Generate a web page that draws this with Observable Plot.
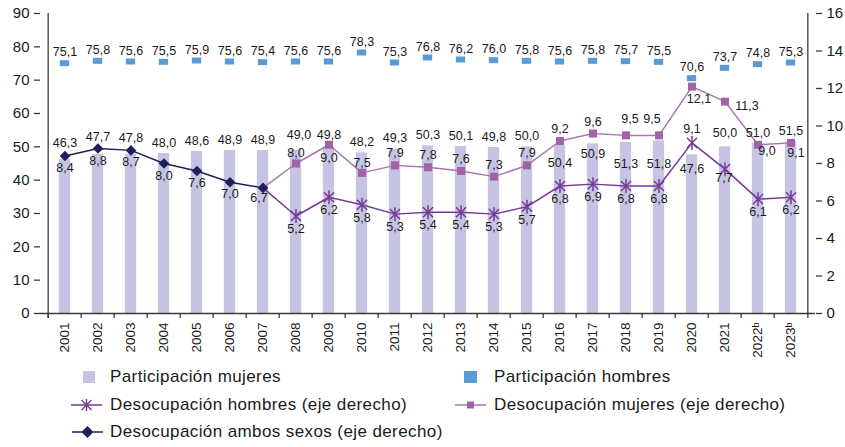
<!DOCTYPE html>
<html><head><meta charset="utf-8">
<script src="https://cdn.jsdelivr.net/npm/d3@7"></script>
<script src="https://cdn.jsdelivr.net/npm/@observablehq/plot@0.6"></script>
<style>
body{margin:0;background:#fff;font-family:"Liberation Sans",Arial,sans-serif;}
#wrap{position:relative;width:845px;height:447px;overflow:hidden}
.item{position:absolute;font-size:17px;color:#1a1a1a;white-space:nowrap;letter-spacing:0.4px;line-height:20px}
.sw{position:absolute}
</style></head><body><div id="wrap"><div id="chart"></div></div>
<script>
const years = [2001,2002,2003,2004,2005,2006,2007,2008,2009,2010,2011,2012,2013,2014,2015,2016,2017,2018,2019,2020,2021,2022,2023];
const yearLabels = ["2001","2002","2003","2004","2005","2006","2007","2008","2009","2010","2011","2012","2013","2014","2015","2016","2017","2018","2019","2020","2021","2022ᵇ","2023ᵇ"];
const partMujeres = [46.3,47.7,47.8,48.0,48.6,48.9,48.9,49.0,49.8,48.2,49.3,50.3,50.1,49.8,50.0,50.4,50.9,51.3,51.8,47.6,50.0,51.0,51.5];
const partHombres = [75.1,75.8,75.6,75.5,75.9,75.6,75.4,75.6,75.6,78.3,75.3,76.8,76.2,76.0,75.8,75.6,75.8,75.7,75.5,70.6,73.7,74.8,75.3];
const desocAmbos = [8.4,8.8,8.7,8.0,7.6,7.0,6.7,null,null,null,null,null,null,null,null,null,null,null,null,null,null,null,null];
const desocHombres = [null,null,null,null,null,null,6.7,5.2,6.2,5.8,5.3,5.4,5.4,5.3,5.7,6.8,6.9,6.8,6.8,9.1,7.7,6.1,6.2];
const desocMujeres = [null,null,null,null,null,null,6.7,8.0,9.0,7.5,7.9,7.8,7.6,7.3,7.9,9.2,9.6,9.5,9.5,12.1,11.3,9.0,9.1];
const leftTicks = [0,10,20,30,40,50,60,70,80,90];
const rightTicks = [0,2,4,6,8,10,12,14,16];

const C = {bar:"#c5c5e3", hom:"#5b9bd5", dh:"#763a97", dm:"#a262a6", dmLine:"#ab74b4", da:"#1f1f5c", axis:"#3a3a3a", text:"#1a1a1a"};
const W = 845, H = 358, mL = 40, mR = 30, mT = 13, mB = 45;
const bw = (W - mL - mR) / years.length;
const k = 90 / 16; // right-axis (0–16) mapped onto left scale (0–90)
const fmt = v => v.toFixed(1).replace(".", ",");

const rows = years.map((y, i) => ({x: yearLabels[i], year: y, pm: partMujeres[i], ph: partHombres[i], da: desocAmbos[i], dh: desocHombres[i], dm: desocMujeres[i]}));

const star = {draw(ctx, size) {
  const r = Math.sqrt(size / Math.PI), d = r * 0.72;
  ctx.moveTo(0, -r); ctx.lineTo(0, r);
  ctx.moveTo(-d, -d); ctx.lineTo(d, d);
  ctx.moveTo(-d, d); ctx.lineTo(d, -d);
}};

// label offsets [dx, dy] (label placement only)
const offPM = {2001:[0,-16],2002:[0,-18],2003:[0,-16],2008:[3,-15],2009:[0,-13],2016:[0,17],2017:[0,10],2018:[0,21],2019:[0,23],2020:[0,14],2021:[0,-14]};
const offDA = {2007:[-4,10]};
const offDH = {2020:[0,-14],2021:[-1,9]};
const offDM = {2008:[0,-11],2009:[0,13],2010:[0,-10],2018:[4,-16],2019:[-7,-16],2020:[7,12],2021:[22,4],2022:[9,6],2023:[5,10]};

function labels(key, scale, defOff, over, filter) {
  return rows.filter(r => r[key] != null && (!filter || filter(r))).map(r => {
    const o = over[r.year] || defOff;
    return Plot.text([r], {x: "x", y: d => d[key] * scale, text: d => fmt(d[key]), dx: o[0], dy: o[1], fill: C.text, fontSize: 12.5});
  });
}

const lineRows = key => rows.filter(r => r[key] != null);
const markRows = key => rows.filter(r => r[key] != null && (key === "da" || r.year > 2007));

const plot = Plot.plot({
  width: W, height: H, marginLeft: mL, marginRight: mR, marginTop: mT, marginBottom: mB,
  style: {fontFamily: "Liberation Sans, Arial, sans-serif", fontSize: "13px", color: C.text, background: "#fff"},
  x: {type: "band", domain: yearLabels, padding: 0},
  y: {domain: [0, 90]},
  marks: [
    Plot.barY(rows, {x: "x", y: "pm", fill: C.bar, insetLeft: (bw - 12) / 2, insetRight: (bw - 12) / 2}),
    Plot.tickY(rows, {x: "x", y: "ph", stroke: C.hom, strokeWidth: 6, insetLeft: (bw - 10) / 2, insetRight: (bw - 10) / 2}),
    // axes lines
    Plot.ruleY([0], {stroke: C.axis, strokeWidth: 1.3}),
    Plot.ruleX([yearLabels[0]], {dx: -bw / 2, stroke: C.axis, strokeWidth: 1.3, insetBottom: -5}),
    Plot.ruleX([yearLabels[yearLabels.length - 1]], {dx: bw / 2, stroke: C.axis, strokeWidth: 1.3, insetBottom: -5}),
    Plot.axisX(yearLabels, {tickSize: 5, tickFormat: () => "", dx: -bw / 2, stroke: C.axis, strokeWidth: 1.3, label: null}),
    Plot.axisX({tickSize: 0, tickPadding: 9, tickRotate: -90, fontSize: 13.5, fill: C.text, label: null}),
    Plot.axisY(leftTicks, {anchor: "left", tickSize: 6, tickPadding: 5, fontSize: 15, stroke: C.axis, strokeWidth: 1.3, fill: C.text, label: null}),
    Plot.axisY(rightTicks.map(v => v * k), {anchor: "right", tickSize: 6, tickPadding: 5, fontSize: 15, tickFormat: d => Math.round(d / k), stroke: C.axis, strokeWidth: 1.3, fill: C.text, label: null}),
    // lines
    Plot.line(lineRows("dm"), {x: "x", y: d => d.dm * k, stroke: C.dmLine, strokeWidth: 1.5}),
    Plot.line(lineRows("dh"), {x: "x", y: d => d.dh * k, stroke: C.dh, strokeWidth: 1.5}),
    Plot.line(lineRows("da"), {x: "x", y: d => d.da * k, stroke: C.da, strokeWidth: 1.5}),
    Plot.dot(markRows("dm"), {x: "x", y: d => d.dm * k, symbol: "square", r: 4.5, fill: C.dm}),
    Plot.dot(markRows("dh"), {x: "x", y: d => d.dh * k, symbol: star, r: 7, stroke: C.dh, strokeWidth: 1.5, fill: "none"}),
    Plot.dot(markRows("da"), {x: "x", y: d => d.da * k, symbol: "diamond2", r: 4.8, fill: C.da}),
    // labels
    ...labels("ph", 1, [0, -11], {}),
    ...labels("pm", 1, [0, -11], offPM),
    ...labels("da", k, [0, 12], offDA),
    ...labels("dh", k, [0, 13], offDH, r => r.year > 2007),
    ...labels("dm", k, [0, -12], offDM, r => r.year > 2007)
  ]
});
const wrap = document.getElementById("chart");
wrap.appendChild(plot);

// legend (HTML below the SVG)
const L = document.getElementById("wrap");
function sw(x, y, w, h, inner) {
  const s = document.createElementNS("http://www.w3.org/2000/svg", "svg");
  s.setAttribute("width", w); s.setAttribute("height", h); s.setAttribute("class", "sw");
  s.style.left = x + "px"; s.style.top = y + "px";
  s.innerHTML = inner; L.appendChild(s);
}
function item(x, yc, txt) {
  const d = document.createElement("div"); d.className = "item";
  d.style.left = x + "px"; d.style.top = (yc - 10) + "px"; d.textContent = txt; L.appendChild(d);
}
const legendItems = [
  ["Participación mujeres", 110, 377, `<rect x="0" y="0" width="12" height="12" fill="${C.bar}"/>`, 83, 12, 12],
  ["Participación hombres", 494, 377, `<rect x="0" y="0" width="13" height="12" fill="${C.hom}"/>`, 464, 13, 12],
  ["Desocupación hombres (eje derecho)", 110, 405, `<line x1="0" y1="8" x2="31" y2="8" stroke="${C.dh}" stroke-width="1.5"/><path d="M15.5,2V14M10.5,3L20.5,13M10.5,13L20.5,3" stroke="${C.dh}" stroke-width="1.4"/>`, 71, 31, 16],
  ["Desocupación mujeres (eje derecho)", 494, 405, `<line x1="0" y1="8" x2="31" y2="8" stroke="${C.dmLine}" stroke-width="1.5"/><rect x="12" y="4.5" width="7" height="7" fill="${C.dm}"/>`, 455, 31, 16],
  ["Desocupación ambos sexos (eje derecho)", 110, 432, `<line x1="0" y1="8" x2="31" y2="8" stroke="${C.da}" stroke-width="1.5"/><path d="M15.5,2L21.5,8L15.5,14L9.5,8Z" fill="${C.da}"/>`, 72, 31, 16]
];
legendItems.forEach(([t, tx, yc, inner, sx, w, h]) => { sw(sx, yc - h / 2, w, h, inner); item(tx, yc, t); });
</script></body></html>
